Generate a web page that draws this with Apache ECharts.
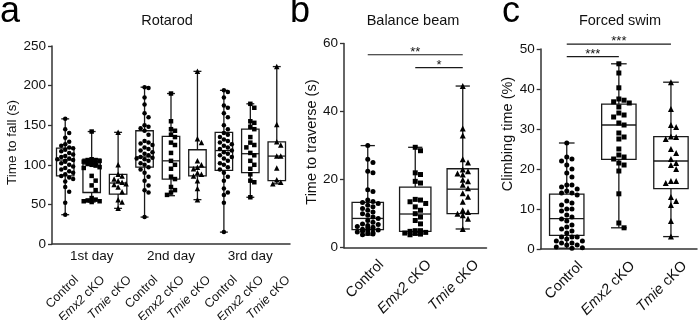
<!DOCTYPE html>
<html>
<head>
<meta charset="utf-8">
<script src="https://cdn.jsdelivr.net/npm/echarts@6/dist/echarts.min.js"></script>
<style>html,body{margin:0;padding:0;background:#fff}#main{width:698px;height:320px}</style>
</head>
<body>
<div id="main"></div>
<script>
var groups = ['Control', 'Emx2 cKO', 'Tmie cKO'];
var days = ['1st day', '2nd day', '3rd day'];
var rotarodCats = groups.concat(groups, groups);
var titles = ['Rotarod', 'Balance beam', 'Forced swim'];

// box stats per group: [min, q1, median, q3, max]
var rotarodBox = [
    [37, 86, 106, 121, 158], [53, 65, 101, 107, 142], [45, 63, 77, 88, 141],
    [34, 97, 110, 143, 198], [61, 82, 105, 136, 190], [56, 86, 97, 119, 218],
    [15, 93, 118, 141, 194], [59, 90, 114, 145, 177], [76, 80, 111, 129, 224]
];
var rotarodPts = [
    [158, 145, 140, 134, 129, 126, 124, 122, 121, 119, 117, 115, 113, 111, 110, 108, 107, 106, 105, 104, 102, 100, 98, 96, 94, 92, 90, 88, 86, 84, 82, 79, 72, 66, 52, 37],
    [142, 107, 106, 106, 105, 104, 103, 102, 101, 100, 99, 97, 96, 86, 80, 74, 68, 58, 56, 55, 54, 54, 53],
    [141, 100, 88, 86, 82, 80, 78, 76, 75, 72, 66, 56, 53, 45],
    [198, 197, 185, 176, 165, 160, 150, 148, 146, 143, 138, 130, 128, 127, 125, 122, 120, 118, 116, 114, 112, 110, 109, 108, 107, 105, 102, 100, 97, 94, 90, 85, 80, 74, 68, 65, 34],
    [190, 155, 145, 143, 138, 135, 128, 125, 115, 105, 100, 95, 85, 82, 72, 68, 65, 62],
    [218, 133, 128, 105, 100, 97, 95, 90, 88, 86, 80, 70, 56],
    [194, 192, 185, 175, 172, 165, 160, 150, 145, 140, 138, 135, 132, 130, 128, 126, 124, 122, 120, 118, 116, 114, 112, 110, 108, 105, 102, 100, 97, 94, 90, 85, 80, 70, 65, 62, 52, 15],
    [177, 172, 155, 153, 148, 145, 135, 128, 125, 122, 115, 112, 105, 100, 95, 88, 80, 78, 59],
    [224, 151, 129, 125, 111, 111, 96, 81, 78, 76]
];

var beamBox = [[3.7, 5.3, 8.6, 13.3, 30], [3.8, 4.8, 9.9, 17.8, 29.5], [5.5, 10, 17.2, 23.2, 47.5]];
var beamPts = [
    [30, 26, 25, 22.5, 22, 17, 16.5, 14, 13.6, 13.3, 13, 12.5, 12, 11.5, 11, 10.5, 10, 9.5, 9, 8.6, 8, 7.5, 7, 6.8, 6.5, 6.2, 6, 5.8, 5.6, 5.4, 5.2, 5, 4.8, 4.6, 4.4, 4.2, 4, 3.8],
    [29.5, 28.5, 22, 21.5, 19.5, 19, 14.2, 14, 13.5, 13, 12, 11, 10, 9, 8, 7, 5, 5, 4.8, 4.5, 4.3, 4.2, 4, 3.8],
    [47.5, 35, 33, 26, 25, 23, 22.5, 21.8, 21.5, 20, 19.5, 18.5, 17.5, 16, 15, 13.5, 11, 10.5, 10, 9.5, 8.5, 5.5]
];
// significance bars: [from group, to group, height]
var beamSig = [[0, 2, 56.7], [1, 2, 52.9]];
var beamSigText = ['**', '*'];

var swimBox = [[0.2, 3.4, 7.6, 13.7, 26.5], [5.3, 22.4, 31, 36.2, 46.3], [3.1, 15.1, 22, 28.1, 41.7]];
var swimPts = [
    [26.5, 23, 22.5, 22, 21, 20, 19, 18, 16, 16, 15.5, 15, 14.5, 14, 14, 13.5, 12, 11.5, 11, 10, 10, 9.5, 8.5, 8, 7.5, 7, 6, 5.5, 5, 4.5, 4, 3, 3, 3, 2.5, 2, 2, 1.5, 1.5, 1, 1, 0.5, 0.3, 0.2],
    [46.3, 44, 40.3, 37.5, 37.2, 36.8, 36.5, 35.5, 34, 33.5, 33, 31.5, 31, 29, 28, 27.5, 25, 23.5, 23, 22.5, 21.5, 21, 19.5, 13.8, 6.5, 5.3],
    [41.7, 35, 31, 30.5, 28.1, 28, 27.5, 25, 24, 22.5, 21.5, 21, 20, 17, 17, 16.5, 13, 12, 11, 7, 3.1]
];
var swimSig = [[0, 2, 51.2], [0, 1, 48.1]];
var swimSigText = ['***', '***'];

var font = 'Liberation Sans';
var ink = '#111';
var axisColor = '#333';
var symbols = ['circle', 'rect', 'triangle'];

// simple deterministic spread so points don't sit on top of each other
function spread(vals, yStep, xStep, maxOff) {
    var placed = [];
    return vals.map(function (v) {
        var best = 0, bestHits = Infinity;
        for (var k = 0; ; k++) {
            var off = (k % 2 ? 1 : -1) * Math.ceil(k / 2) * xStep;
            if (Math.abs(off) > maxOff + 1e-6) break;
            var hits = placed.filter(function (p) {
                return Math.abs(p[1] - v) < yStep && Math.abs(p[0] - off) < xStep * 0.9;
            }).length;
            if (hits < bestHits) { best = off; bestHits = hits; }
            if (!hits) break;
        }
        placed.push([best, v]);
        return best;
    });
}

function renderBox(params, api) {
    var i = api.value(0);
    var lo = api.coord([i, api.value(1)]);
    var q1 = api.coord([i, api.value(2)]);
    var md = api.coord([i, api.value(3)]);
    var q3 = api.coord([i, api.value(4)]);
    var hi = api.coord([i, api.value(5)]);
    var band = api.size([1, 0])[0];
    var hw = band * 0.33, cw = band * 0.15, x = md[0];
    var st = {stroke: '#1a1a1a', lineWidth: 1.3, fill: 'none'};
    function seg(x1, y1, x2, y2) {
        return {type: 'line', shape: {x1: x1, y1: y1, x2: x2, y2: y2}, style: st};
    }
    return {type: 'group', children: [
        {type: 'rect', shape: {x: x - hw, y: q3[1], width: hw * 2, height: q1[1] - q3[1]}, style: st},
        seg(x - hw, md[1], x + hw, md[1]),
        seg(x, q3[1], x, hi[1]),
        seg(x, q1[1], x, lo[1]),
        seg(x - cw, hi[1], x + cw, hi[1]),
        seg(x - cw, lo[1], x + cw, lo[1])
    ]};
}

function renderSig(labels) {
    return function (params, api) {
        var a = api.coord([api.value(0), api.value(2)]);
        var b = api.coord([api.value(1), api.value(2)]);
        return {type: 'group', children: [
            {type: 'line', shape: {x1: a[0], y1: a[1], x2: b[0], y2: b[1]}, style: {stroke: '#1a1a1a', lineWidth: 1.2}},
            {type: 'text', x: (a[0] + b[0]) / 2, y: a[1] + 4, style: {
                text: labels[params.dataIndex], align: 'center', verticalAlign: 'bottom',
                fontSize: 13, fontFamily: font, fill: ink}}
        ]};
    };
}

function catAxis(grid, cats, size, margin, pad) {
    return {
        type: 'category', gridIndex: grid, data: cats, position: 'bottom',
        axisLine: {onZero: false, lineStyle: {color: axisColor, width: 1.5}},
        axisTick: {alignWithLabel: true, interval: 0, length: 4, lineStyle: {color: axisColor, width: 1.3}},
        axisLabel: {
            interval: 0, rotate: 45, margin: margin, align: 'right', verticalAlign: 'top',
            padding: [0, pad, 0, 0], color: ink, fontFamily: font, fontSize: size,
            formatter: function (v) {
                var p = v.split(' ');
                return p.length > 1 ? '{i|' + p[0] + '} ' + p[1] : v;
            },
            rich: {i: {fontStyle: 'italic', fontFamily: font, fontSize: size, color: ink}}
        }
    };
}

function hiddenAxis(grid, n) {
    return {type: 'value', gridIndex: grid, min: -0.5, max: n - 0.5, show: false, position: 'top'};
}

function valAxis(grid, max, step, name, gap, size, pad) {
    return {
        type: 'value', gridIndex: grid, min: 0, max: max, interval: step,
        name: name, nameLocation: 'middle', nameGap: gap,
        nameTextStyle: {fontFamily: font, fontSize: size, color: ink, padding: [0, 0, 0, pad]},
        axisLine: {show: true, onZero: false, lineStyle: {color: axisColor, width: 1.5}},
        axisTick: {show: true, length: 4, lineStyle: {color: axisColor, width: 1.3}},
        axisLabel: {margin: 6, fontFamily: font, fontSize: 13.5, color: ink},
        splitLine: {show: false}
    };
}

function panelSeries(catIdx, valIdx, yIdx, box, pts, yStep, xStep, symSize) {
    var list = [{
        type: 'custom', xAxisIndex: catIdx, yAxisIndex: yIdx, renderItem: renderBox,
        encode: {x: 0, y: [1, 2, 3, 4, 5]}, z: 2,
        data: box.map(function (b, i) { return [i].concat(b); })
    }];
    pts.forEach(function (vals, i) {
        var offs = spread(vals, yStep, xStep, 0.3);
        list.push({
            type: 'scatter', xAxisIndex: valIdx, yAxisIndex: yIdx, z: 3,
            symbol: symbols[i % 3], symbolSize: symSize[i % 3],
            itemStyle: {color: '#000', opacity: 1},
            data: vals.map(function (v, j) { return [i + offs[j], v]; })
        });
    });
    return list;
}

function sigSeries(valIdx, yIdx, sig, labels) {
    return {
        type: 'custom', xAxisIndex: valIdx, yAxisIndex: yIdx, renderItem: renderSig(labels),
        encode: {x: [0, 1], y: 2}, clip: false, z: 4, data: sig
    };
}

var myChart = echarts.init(document.getElementById('main'));

var gridBase = {containLabel: false, outerBoundsMode: 'none'};
var option = {
    backgroundColor: '#fff',
    animation: false,
    grid: [
        Object.assign({left: 52, right: 408, top: 46, bottom: 76}, gridBase),
        Object.assign({left: 344, right: 211.5, top: 43.5, bottom: 72.3}, gridBase),
        Object.assign({left: 540.7, right: 1, top: 49, bottom: 71}, gridBase)
    ],
    xAxis: [
        catAxis(0, rotarodCats, 12.5, 36, -9.5),
        hiddenAxis(0, rotarodCats.length),
        {
            type: 'category', gridIndex: 0, data: days, position: 'bottom',
            axisLine: {show: false, onZero: false}, axisTick: {show: false},
            axisLabel: {margin: 5, fontFamily: font, fontSize: 13.5, color: ink}
        },
        catAxis(1, groups, 14.5, 18, -12),
        hiddenAxis(1, groups.length),
        catAxis(2, groups, 14.5, 18, -12),
        hiddenAxis(2, groups.length)
    ],
    yAxis: [
        valAxis(0, 250, 50, 'Time to fall (s)', 33, 13.5, 5),
        valAxis(1, 60, 20, 'Time to traverse (s)', 23, 14.5, 7),
        valAxis(2, 50, 10, 'Climbing time (%)', 20, 14.5, 30)
    ],
    graphic: [
        {type: 'text', x: 0, y: -6, style: {text: 'a', fontSize: 36, fontFamily: font, fill: '#000'}},
        {type: 'text', x: 290, y: -6, style: {text: 'b', fontSize: 36, fontFamily: font, fill: '#000'}},
        {type: 'text', x: 502, y: -6, style: {text: 'c', fontSize: 36, fontFamily: font, fill: '#000'}},
        {type: 'text', x: 167, y: 20.5, style: {text: titles[0], align: 'center', verticalAlign: 'middle', fontSize: 14.5, fontFamily: font, fill: ink}},
        {type: 'text', x: 413, y: 20.5, style: {text: titles[1], align: 'center', verticalAlign: 'middle', fontSize: 14.5, fontFamily: font, fill: ink}},
        {type: 'text', x: 620, y: 20.5, style: {text: titles[2], align: 'center', verticalAlign: 'middle', fontSize: 14.5, fontFamily: font, fill: ink}}
    ],
    series: []
        .concat(panelSeries(0, 1, 0, rotarodBox, rotarodPts, 6.3, 0.15, [4.5, 4.5, 5.5]))
        .concat(panelSeries(3, 4, 1, beamBox, beamPts, 1.5, 0.11, [5, 5, 6]))
        .concat(panelSeries(5, 6, 2, swimBox, swimPts, 1.25, 0.1, [5, 5, 6]))
        .concat([sigSeries(4, 1, beamSig, beamSigText), sigSeries(6, 2, swimSig, swimSigText)])
};
myChart.setOption(option);
</script>
</body>
</html>
